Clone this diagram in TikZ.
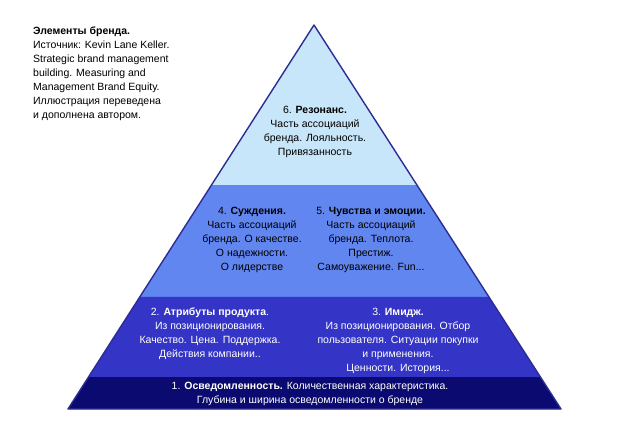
\documentclass[tikz,border=0pt]{standalone}
\usepackage{fontspec}
\setmainfont{Liberation Sans}
\usetikzlibrary{calc}

\definecolor{resonanceblue}{HTML}{C8E6FA}
\definecolor{judgeblue}{HTML}{6186F0}
\definecolor{attribblue}{HTML}{3434C6}
\definecolor{awareblue}{HTML}{0A0A70}
\definecolor{edgeblue}{HTML}{2C2C92}

\begin{document}
\begin{tikzpicture}[
            x = 1pt, y = -1pt, % pixel-like units, y downwards
            font = \fontsize{10.5}{14}\selectfont,
            label/.style = {align = center, inner sep = 0pt},
            darklabel/.style = {label, text = black},
            lightlabel/.style = {label, text = white}
        ]
        \useasboundingbox (0,0) rectangle (620,422);

        % corners of the pyramid
        \coordinate (apex) at (314,25);
        \coordinate (bl) at (68,409);
        \coordinate (br) at (561,409);

        % level boundaries
        \coordinate (l6) at ($(apex)!0.4167!(bl)$);
        \coordinate (r6) at ($(apex)!0.4167!(br)$);
        \coordinate (l4) at ($(apex)!0.7083!(bl)$);
        \coordinate (r4) at ($(apex)!0.7083!(br)$);
        \coordinate (l2) at ($(apex)!0.9167!(bl)$);
        \coordinate (r2) at ($(apex)!0.9167!(br)$);

        \fill[resonanceblue] (apex) -- (l6) -- (r6) -- cycle;
        \fill[judgeblue] (l6) -- (l4) -- (r4) -- (r6) -- cycle;
        \fill[attribblue] (l4) -- (l2) -- (r2) -- (r4) -- cycle;
        \fill[awareblue] (l2) -- (bl) -- (br) -- (r2) -- cycle;
        \draw[edgeblue, line width = 1.4pt, line join = round] (apex) -- (bl) -- (br) -- cycle;

        \node[label, align = left, anchor = north west] (source) at (33,27) {%
            \textbf{Элементы бренда.}\\
            Источник: Kevin Lane Keller.\\
            Strategic brand management\\
            building. Measuring and\\
            Management Brand Equity.\\
            Иллюстрация переведена\\
            и дополнена автором.};

        \node[darklabel] (resonance) at (315,132) {%
            6. \textbf{Резонанс.}\\
            Часть ассоциаций\\
            бренда. Лояльность.\\
            Привязанность};

        \node[darklabel] (judgements) at (252,240) {%
            4. \textbf{Суждения.}\\
            Часть ассоциаций\\
            бренда. О качестве.\\
            О надежности.\\
            О лидерстве};
        \node[darklabel] (feelings) at (371,240) {%
            5. \textbf{Чувства и эмоции.}\\
            Часть ассоциаций\\
            бренда. Теплота.\\
            Престиж.\\
            Самоуважение. Fun...};

        \node[lightlabel] (attributes) at (210,334) {%
            2. \textbf{Атрибуты продукта}.\\
            Из позиционирования.\\
            Качество. Цена. Поддержка.\\
            Действия компании..};
        \node[lightlabel] (imagery) at (398,341) {%
            3. \textbf{Имидж.}\\
            Из позиционирования. Отбор\\
            пользователя. Ситуации покупки\\
            и применения.\\
            Ценности. История...};

        \node[lightlabel] (awareness) at (310,394) {%
            1. \textbf{Осведомленность.} Количественная характеристика.\\
            Глубина и ширина осведомленности о бренде};
    \end{tikzpicture}
\end{document}
